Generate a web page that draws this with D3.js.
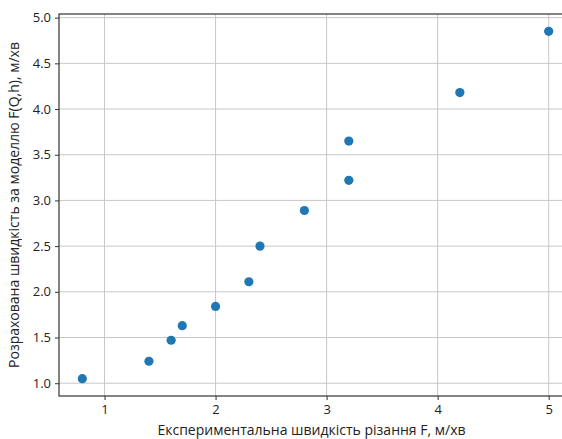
<!DOCTYPE html>
<html>
<head>
<meta charset="utf-8">
<script src="https://cdn.jsdelivr.net/npm/d3@7"></script>
<style>
  body { margin: 0; background: #fff; }
  text { font-family: "Open Sans", "Noto Sans", sans-serif; fill: #222; }
</style>
</head>
<body>
<main></main>
<script>
// experimental vs model cutting speed
var expSpeed   = [0.8, 1.4, 1.6, 1.7, 2.0, 2.3, 2.4, 2.8, 3.2, 3.2, 4.2, 5.0];
var modelSpeed = [1.05, 1.24, 1.47, 1.63, 1.84, 2.11, 2.50, 2.89, 3.22, 3.65, 4.18, 4.85];
var xTicks = [1, 2, 3, 4, 5];
var yTicks = [1.0, 1.5, 2.0, 2.5, 3.0, 3.5, 4.0, 4.5, 5.0];
var xLabel = "Експериментальна швидкість різання F, м/хв";
var yLabel = "Розрахована швидкість за моделлю F(Q,h), м/хв";

var W = 562, H = 439;
var m = { left: 59, top: 14, right: 572, bottom: 396 };

var svg = d3.select("main").append("svg")
  .attr("width", W)
  .attr("height", H);

var x = d3.scaleLinear().domain([0.59, 5.21]).range([m.left, m.right]);
var y = d3.scaleLinear().domain([0.86, 5.04]).range([m.bottom, m.top]);

// grid
svg.append("g").selectAll("line")
  .data(xTicks).enter().append("line")
  .attr("x1", function(d) { return x(d); })
  .attr("x2", function(d) { return x(d); })
  .attr("y1", m.top).attr("y2", m.bottom)
  .attr("stroke", "#c8c8c8").attr("stroke-width", 1);

svg.append("g").selectAll("line")
  .data(yTicks).enter().append("line")
  .attr("y1", function(d) { return y(d); })
  .attr("y2", function(d) { return y(d); })
  .attr("x1", m.left).attr("x2", m.right)
  .attr("stroke", "#c8c8c8").attr("stroke-width", 1);

// axes
var xAxis = svg.append("g")
  .attr("transform", "translate(0," + m.bottom + ")")
  .call(d3.axisBottom(x).tickValues(xTicks).tickSize(4).tickPadding(5).tickFormat(d3.format("d")));

var yAxis = svg.append("g")
  .attr("transform", "translate(" + m.left + ",0)")
  .call(d3.axisLeft(y).tickValues(yTicks).tickSize(4).tickPadding(4).tickFormat(d3.format(".1f")));

[xAxis, yAxis].forEach(function(a) {
  a.select(".domain").remove();
  a.selectAll("text").style("font-size", "13px").attr("fill", "#222");
  a.selectAll("line").attr("stroke", "#333");
});

// spines
svg.append("rect")
  .attr("x", m.left).attr("y", m.top)
  .attr("width", m.right - m.left).attr("height", m.bottom - m.top)
  .attr("fill", "none").attr("stroke", "#333").attr("stroke-width", 1.2);

// points
svg.append("g").selectAll("circle")
  .data(expSpeed).enter().append("circle")
  .attr("cx", function(d) { return x(d); })
  .attr("cy", function(d, i) { return y(modelSpeed[i]); })
  .attr("r", 4.6)
  .style("fill", "#1f77b4");

// labels
svg.append("text")
  .attr("x", (m.left + m.right) / 2 - 4)
  .attr("y", 435)
  .attr("text-anchor", "middle")
  .style("font-size", "14px")
  .text(xLabel);

svg.append("text")
  .attr("transform", "translate(19," + ((m.top + m.bottom) / 2) + ") rotate(-90)")
  .attr("text-anchor", "middle")
  .style("font-size", "14px")
  .text(yLabel);
</script>
</body>
</html>
